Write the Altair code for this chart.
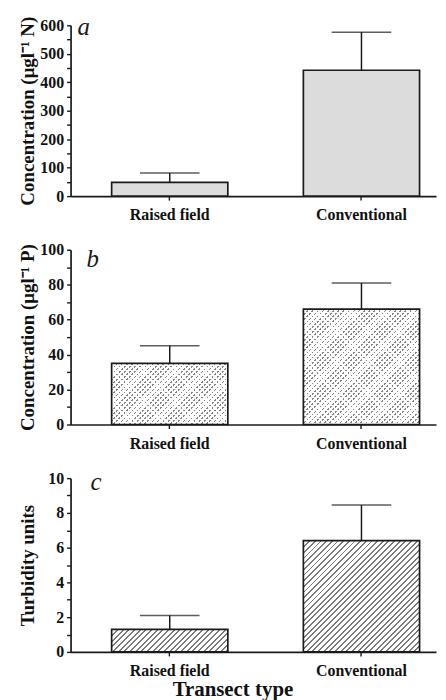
import altair as alt
import pandas as pd

# ---- data ----
categories = ["Raised field", "Conventional"]

nitrogen_mean = [48, 442]
nitrogen_err = [33, 134]

phosphorus_mean = [35, 66]
phosphorus_err = [10, 15]

turbidity_mean = [1.3, 6.4]
turbidity_err = [0.8, 2.05]

# ---- layout constants ----
W = 368
HEIGHTS = [172, 176, 175]
YMAX = [600, 100, 10]
P_INNER, P_OUTER, ALIGN = 0.394, 0.150, 0.714
FONT = "Liberation Serif"

step = W / (2 - P_INNER + 2 * P_OUTER)
BW = step * (1 - P_INNER)

xscale = alt.Scale(paddingInner=P_INNER, paddingOuter=P_OUTER, align=ALIGN)


def stripe_gradient(w, h, period, frac, on, off, direction):
    r = h / w
    k = (1 + r) / (1 + r * r)
    if direction == "/":
        x1, y1, x2, y2 = 0, 0, k, k * r
    else:
        x1, y1, x2, y2 = 0, 1, k, 1 - k * r
    pt = period / (w + h)
    stops = []
    t = 0.0
    while t < 1 - 1e-9:
        a = t
        b = min(t + pt * frac, 1)
        c = min(t + pt, 1)
        stops += [(a, on), (b, on), (b, off), (c, off)]
        t += pt
    return {
        "gradient": "linear",
        "x1": x1, "y1": y1, "x2": x2, "y2": y2,
        "stops": [{"offset": round(o, 5), "color": col} for o, col in stops],
    }


def make_df(means, errs):
    return pd.DataFrame({
        "cat": categories,
        "mean": means,
        "upper": [m + e for m, e in zip(means, errs)],
    })


def panel(df, idx, ytitle, tick_step, label_step, letter, letter_dx, letter_dy,
          fill_kind, show_xtitle=False):
    H = HEIGHTS[idx]
    ymax = YMAX[idx]
    yscale = alt.Scale(domain=[0, ymax], nice=False)
    vals = []
    v = 0
    while v <= ymax + 1e-9:
        vals.append(round(v, 6))
        v += tick_step
    yaxis = alt.Axis(
        values=vals,
        labelExpr=f"abs(datum.value % {label_step}) < 1e-6 ? datum.label : ''",
        format="d",
        titleX=-43, titleY=H / 2, titleAngle=270, titleBaseline="middle",
        titleAlign="center",
    )
    if show_xtitle:
        xaxis = alt.Axis(labelAngle=0, bandPosition=0.5, title="Transect type",
                         titleX=163, titleY=44, titleBaseline="alphabetic",
                         titleAlign="center", titleFontSize=21)
        xt = "Transect type"
    else:
        xaxis = alt.Axis(labelAngle=0, bandPosition=0.5, title=None)
        xt = None

    X = alt.X("cat:N", sort=categories, scale=xscale, axis=xaxis, title=xt)
    Ym = alt.Y("mean:Q", scale=yscale, axis=yaxis, title=ytitle)
    Yu = alt.Y("upper:Q", scale=yscale, axis=yaxis, title=ytitle)

    base = alt.Chart(df)
    layers = []
    if fill_kind == "flat":
        layers.append(base.mark_bar(fill="#dcdcdc", stroke="#1a1a1a", strokeWidth=1.7)
                      .encode(x=X, y=Ym))
    else:
        for cat, m in zip(df["cat"], df["mean"]):
            h = m / ymax * H
            sub = base.transform_filter(alt.datum.cat == cat)
            if fill_kind == "dash":
                g1 = stripe_gradient(BW, h, 5.2, 0.32, "#858585", "#ffffff", "/")
                g2 = stripe_gradient(BW, h, 5.2, 0.45, "#ffffff",
                                     "rgba(255,255,255,0)", "\\")
                layers.append(sub.mark_bar(fill=g1, strokeWidth=0)
                              .encode(x=X, y=Ym))
                layers.append(sub.mark_bar(fill=g2, stroke="#1a1a1a", strokeWidth=1.7)
                              .encode(x=X, y=Ym))
            else:
                g = stripe_gradient(BW, h, 5.7, 0.33, "#7c7c7c", "#ffffff", "/")
                layers.append(sub.mark_bar(fill=g, stroke="#1a1a1a", strokeWidth=1.7)
                              .encode(x=X, y=Ym))

    layers.append(base.mark_rule(color="#1a1a1a", strokeWidth=1.5)
                  .encode(x=X, y=Ym, y2="upper:Q"))
    layers.append(base.mark_tick(color="#1a1a1a", thickness=1.5, size=60,
                                 orient="horizontal")
                  .encode(x=X, y=Yu))
    layers.append(alt.Chart(pd.DataFrame({"letter": [letter]}))
                  .mark_text(font=FONT, fontStyle="italic", fontSize=25,
                             align="left", baseline="alphabetic", color="#1a1a1a")
                  .encode(text="letter:N", x=alt.value(letter_dx),
                          y=alt.value(letter_dy)))
    return alt.layer(*layers).properties(width=W, height=H)


pa = panel(make_df(nitrogen_mean, nitrogen_err), 0,
           "Concentration (μgl⁻¹ N)", 50, 100, "a", 7, 10, "flat")
pb = panel(make_df(phosphorus_mean, phosphorus_err), 1,
           "Concentration (μgl⁻¹ P)", 10, 20, "b", 16, 17, "dash")
pc = panel(make_df(turbidity_mean, turbidity_err), 2,
           "Turbidity units", 1, 2, "c", 20, 12, "hatch", show_xtitle=True)

chart = (
    alt.vconcat(pa, pb, pc, spacing=54, bounds="flush")
    .properties(padding={"left": 10, "top": 5, "right": 2, "bottom": 0},
                background="white")
    .configure_view(stroke=None)
    .configure_axis(
        domainColor="#1a1a1a", domainWidth=1.7,
        tickColor="#1a1a1a", tickWidth=1.4, tickSize=4,
        labelFont=FONT, labelFontSize=16, labelFontWeight="bold",
        labelColor="#111111", labelPadding=3,
        titleFont=FONT, titleFontSize=19, titleFontWeight="bold",
        titleColor="#111111", grid=False,
    )
    .configure_axisX(labelPadding=7)
)

chart.save("out.html", embed_options={"renderer": "svg", "actions": False})
